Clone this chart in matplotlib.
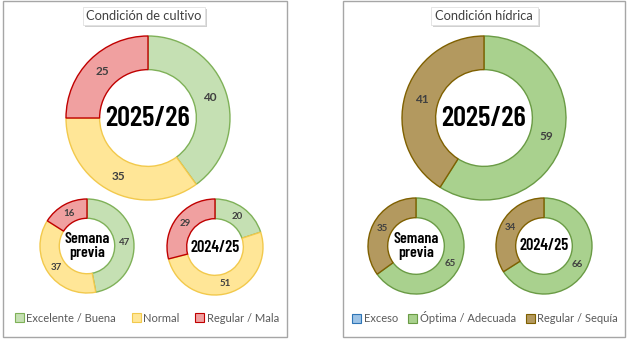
import matplotlib.pyplot as plt
from matplotlib.patches import Patch, Rectangle

# Condición de cultivo (%)
cultivo_labels = ["Excelente / Buena", "Normal", "Regular / Mala"]
cultivo_actual = [40, 35, 25]
cultivo_semana = [47, 37, 16]
cultivo_anterior = [20, 51, 29]
cultivo_fill = ["#c5e0b3", "#ffe697", "#f0a0a0"]
cultivo_edge = ["#7fb158", "#f2c94c", "#c00000"]

# Condición hídrica (%)
hidrica_labels = ["Exceso", "Óptima / Adecuada", "Regular / Sequía"]
hidrica_actual = [0, 59, 41]
hidrica_semana = [0, 65, 35]
hidrica_anterior = [0, 66, 34]
hidrica_fill = ["#9dc3e6", "#a9d18e", "#b3995f"]
hidrica_edge = ["#2e75b6", "#6a9b45", "#7f6000"]

W, H = 627, 341
TXT = "#404040"
NARROW = ["Barlow Condensed", "DejaVu Sans"]
LABEL_FONT = ["Lato", "DejaVu Sans"]

fig = plt.figure(figsize=(W / 100, H / 100), dpi=100)
ax = fig.add_axes([0, 0, 1, 1])
ax.set_xlim(0, W)
ax.set_ylim(0, H)
ax.set_aspect("equal")
ax.axis("off")


def donut(values, fills, edges, cx, cy, r, center_text, center_size, label_size):
    # ring drawn clockwise from 12 o'clock, label sits in the middle of the ring
    wedges, _, autotexts = ax.pie(
        values, colors=fills, radius=r, center=(cx, H - cy),
        startangle=90, counterclock=False,
        wedgeprops=dict(width=r * 0.41, linewidth=1.0),
        autopct=lambda p: f"{p:.0f}" if p > 0.5 else "",
        pctdistance=0.795, frame=True,
        textprops=dict(fontsize=label_size, color=TXT, family=LABEL_FONT,
                       fontweight="bold"),
    )
    for w, v, ec in zip(wedges, values, edges):
        w.set_edgecolor(ec)
        if v == 0:
            w.set_visible(False)
    ax.text(cx, H - cy, center_text, ha="center", va="center",
            fontsize=center_size, fontweight="semibold", family=NARROW,
            color="black", linespacing=1.05)


def panel(x0, x1, title, title_x, title_w, labels, fills, edges, leg_x, spacing):
    ax.add_patch(Rectangle((x0, H - 337), x1 - x0, 336, facecolor="none",
                           edgecolor="#a6a6a6", linewidth=1.0))
    # title box with a soft drop shadow
    ax.add_patch(Rectangle((title_x - title_w / 2 + 2, H - 27), title_w, 18,
                           facecolor="#d0d0d0", edgecolor="none"))
    ax.add_patch(Rectangle((title_x - title_w / 2, H - 25), title_w, 18,
                           facecolor="white", edgecolor="#e0e0e0", linewidth=0.6))
    ax.text(title_x, H - 16, title, ha="center", va="center", fontsize=9.3,
            color=TXT, family=LABEL_FONT)
    handles = [Patch(facecolor=f, edgecolor=e, linewidth=0.8)
               for f, e in zip(fills, edges)]
    ax.legend(handles, labels, loc="center", bbox_to_anchor=(leg_x, H - 318),
              bbox_transform=ax.transData, ncol=3, frameon=False,
              handlelength=0.8, handleheight=0.8, handletextpad=0.25,
              columnspacing=spacing, borderpad=0,
              prop=dict(family=LABEL_FONT, size=8), labelcolor="#595959")


panel(3, 287, "Condición de cultivo", 144, 122, cultivo_labels,
      cultivo_fill, cultivo_edge, 147, 1.4)
donut(cultivo_actual, cultivo_fill, cultivo_edge, 148, 118, 82, "2025/26", 20.5, 8.5)
donut(cultivo_semana, cultivo_fill, cultivo_edge, 87, 246, 47, "Semana\nprevia", 11.5, 7)
donut(cultivo_anterior, cultivo_fill, cultivo_edge, 215, 247, 48, "2024/25", 11.8, 7)

leg = ax.get_legend()
ax.add_artist(leg)

panel(343, 625, "Condición hídrica", 484, 107, hidrica_labels,
      hidrica_fill, hidrica_edge, 485, 0.9)
donut(hidrica_actual, hidrica_fill, hidrica_edge, 484, 118, 82, "2025/26", 20.5, 8.5)
donut(hidrica_semana, hidrica_fill, hidrica_edge, 416, 246, 48, "Semana\nprevia", 11.5, 7)
donut(hidrica_anterior, hidrica_fill, hidrica_edge, 544, 246, 48, "2024/25", 11.8, 7)

ax.set_xlim(0, W)
ax.set_ylim(0, H)
ax.axis("off")
fig.savefig("out.png", dpi=100, facecolor="white")
